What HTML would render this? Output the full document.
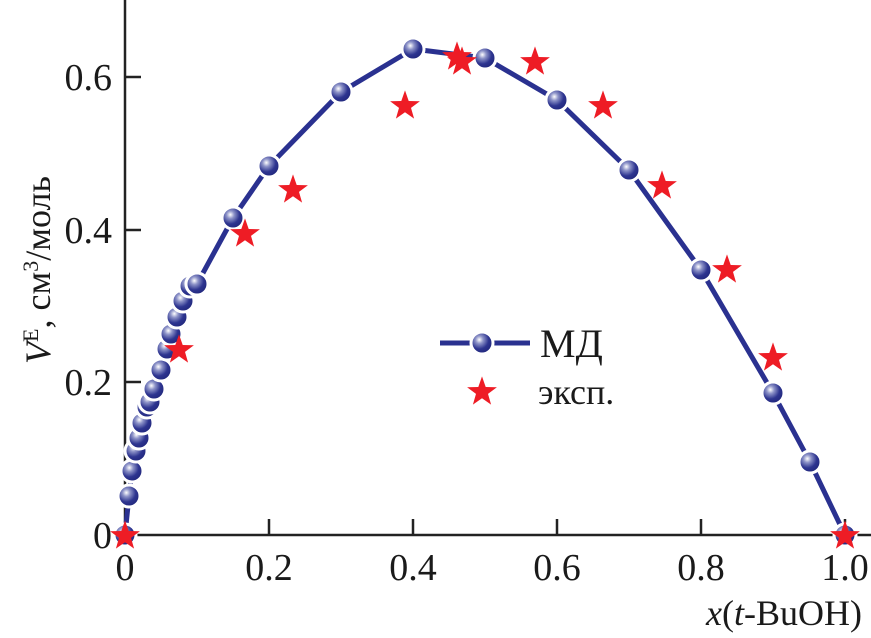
<!DOCTYPE html>
<html><head><meta charset="utf-8"><style>body{margin:0;background:#fff}svg{display:block}</style></head><body>
<svg width="871" height="638" viewBox="0 0 871 638" xmlns="http://www.w3.org/2000/svg" font-family="'Liberation Serif', serif" fill="#1a1a1a">
<defs>
<radialGradient id="g" cx="0.38" cy="0.35" r="0.7">
<stop offset="0" stop-color="#ffffff"/><stop offset="0.25" stop-color="#8d93c8"/><stop offset="0.6" stop-color="#2e3590"/><stop offset="1" stop-color="#1e2478"/>
</radialGradient>
<circle id="b" r="11" fill="url(#g)" stroke="#fff" stroke-width="3"/>
<polygon id="s" points="0,-15.6 3.7,-5 14.9,-4.8 6,1.9 9.1,12.6 0,6.2 -9.1,12.6 -6,1.9 -14.9,-4.8 -3.7,-5" fill="#ee1c25"/>
</defs>
<g stroke="#222" stroke-width="2.5" fill="none">
<line x1="125" y1="0" x2="125" y2="536"/>
<line x1="124" y1="535" x2="871" y2="535"/>
<line x1="269" y1="535" x2="269" y2="519"/><line x1="413" y1="535" x2="413" y2="519"/><line x1="557" y1="535" x2="557" y2="519"/><line x1="701" y1="535" x2="701" y2="519"/><line x1="845" y1="535" x2="845" y2="519"/>
<line x1="125" y1="382" x2="141" y2="382"/><line x1="125" y1="230" x2="141" y2="230"/><line x1="125" y1="77" x2="141" y2="77"/>
</g>
<polyline fill="none" stroke="#2a3190" stroke-width="5" stroke-linejoin="round" points="125,535 129,496 132,471 136,451 139,438 142,423 147,407 150,402 154,389 161,370 167,349 171,334 177,317 183,301 190,286 197,284 233,218 269,166 341,92 413,49 485,58 557,100 629,170 701,270 773,393 810,462 845,535"/>
<g>
<use href="#b" x="125" y="535"/><use href="#b" x="129" y="496"/><use href="#b" x="132" y="471"/><use href="#b" x="136" y="451"/><use href="#b" x="139" y="438"/><use href="#b" x="142" y="423"/><use href="#b" x="147" y="407"/><use href="#b" x="150" y="402"/><use href="#b" x="154" y="389"/><use href="#b" x="161" y="370"/><use href="#b" x="167" y="349"/><use href="#b" x="171" y="334"/><use href="#b" x="177" y="317"/><use href="#b" x="183" y="301"/><use href="#b" x="190" y="286"/><use href="#b" x="197" y="284"/><use href="#b" x="233" y="218"/><use href="#b" x="269" y="166"/><use href="#b" x="341" y="92"/><use href="#b" x="413" y="49"/><use href="#b" x="485" y="58"/><use href="#b" x="557" y="100"/><use href="#b" x="629" y="170"/><use href="#b" x="701" y="270"/><use href="#b" x="773" y="393"/><use href="#b" x="810" y="462"/><use href="#b" x="845" y="535"/>
</g>
<g>
<use href="#s" x="125" y="536"/><use href="#s" x="179" y="350"/><use href="#s" x="245" y="234"/><use href="#s" x="293" y="190"/><use href="#s" x="405" y="106"/><use href="#s" x="457" y="57"/><use href="#s" x="462" y="62"/><use href="#s" x="535" y="62"/><use href="#s" x="603" y="106"/><use href="#s" x="662" y="186"/><use href="#s" x="727" y="270"/><use href="#s" x="773" y="358"/><use href="#s" x="845" y="536"/>
</g>
<line x1="440" y1="343" x2="530" y2="343" stroke="#2a3190" stroke-width="5"/>
<use href="#b" x="482" y="343"/>
<use href="#s" x="482" y="392"/>
<text x="540" y="357" font-size="40">МД</text>
<text x="538" y="404" font-size="36">эксп.</text>
<g font-size="38" text-anchor="middle">
<text x="125" y="580">0</text><text x="269" y="580">0.2</text><text x="413" y="580">0.4</text><text x="557" y="580">0.6</text><text x="701" y="580">0.8</text><text x="845" y="580">1.0</text>
</g>
<g font-size="38" text-anchor="end">
<text x="112" y="548">0</text><text x="112" y="395">0.2</text><text x="112" y="243">0.4</text><text x="112" y="90">0.6</text>
</g>
<text x="862" y="625" font-size="36" text-anchor="end"><tspan font-style="italic">x</tspan>(<tspan font-style="italic">t</tspan>-BuOH)</text>
<text transform="translate(50,270) rotate(-90)" font-size="36" text-anchor="middle"><tspan font-style="italic">V</tspan><tspan font-size="22" dy="-12">E</tspan><tspan dy="12">, см</tspan><tspan font-size="22" dy="-12">3</tspan><tspan dy="12">/моль</tspan></text>
</svg>
</body></html>
